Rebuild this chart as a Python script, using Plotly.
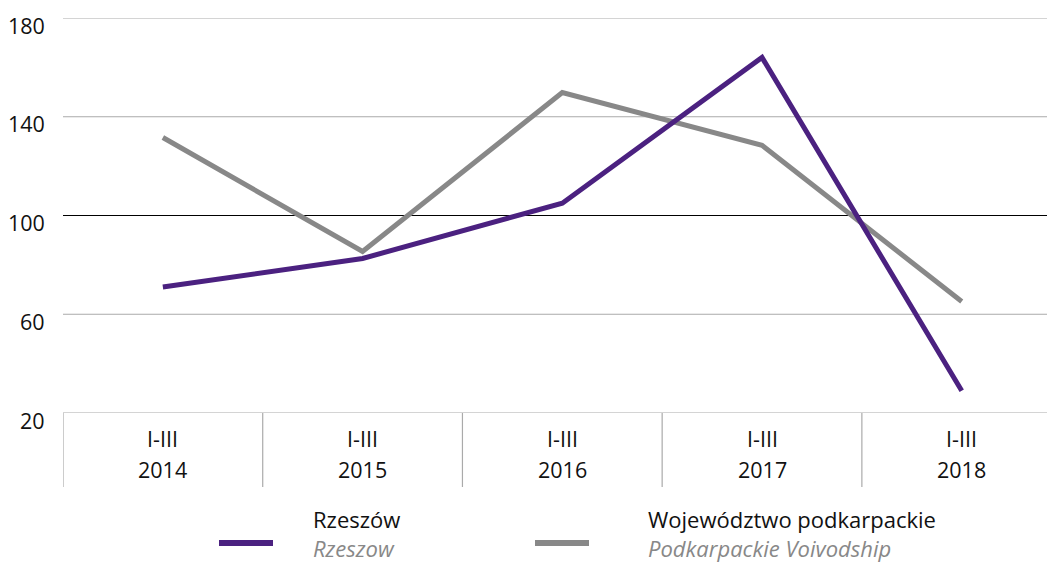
import plotly.graph_objects as go

periods = ["I-III", "I-III", "I-III", "I-III", "I-III"]
years = ["2014", "2015", "2016", "2017", "2018"]
rzeszow = [71, 82.6, 105, 164, 29]
podkarpackie = [131.6, 85.4, 149.8, 128.4, 65.2]
y_ticks = [20, 60, 100, 140, 180]

PURPLE = "#4b2180"
GRAY = "#888888"
FONT = "Open Sans"
FS = 21.5
FS_LEG = 22

# the page body has an 8px margin; compensate so the plot sits where the reference has it
W, H = 1047, 556
ML, MT, MB = 55, 10, 151
PH = H - MT - MB  # plot height in px
PW = W - ML

x_idx = list(range(len(years)))

def py(px_below):
    return -px_below / PH

def px(abs_x):
    return (abs_x - 63) / PW

fig = go.Figure()
fig.add_trace(go.Scatter(x=x_idx, y=podkarpackie, mode="lines",
                         line=dict(color=GRAY, width=5), name="Województwo podkarpackie"))
fig.add_trace(go.Scatter(x=x_idx, y=rzeszow, mode="lines",
                         line=dict(color=PURPLE, width=5), name="Rzeszów"))

shapes = []
for t in y_ticks:
    shapes.append(dict(type="line", xref="paper", yref="y", x0=0, x1=1, y0=t, y1=t,
                       line=dict(color="#000000" if t == 100 else "#aaaaaa", width=1.2),
                       layer="below"))
for i in range(len(years)):
    shapes.append(dict(type="line", xref="x", yref="paper", x0=i - 0.5, x1=i - 0.5,
                       y0=0, y1=py(74), line=dict(color="#aaaaaa", width=1.2)))
shapes.append(dict(type="line", xref="paper", yref="paper", x0=px(219), x1=px(273),
                   y0=py(130), y1=py(130), line=dict(color=PURPLE, width=6)))
shapes.append(dict(type="line", xref="paper", yref="paper", x0=px(535), x1=px(589),
                   y0=py(130), y1=py(130), line=dict(color=GRAY, width=6)))

annotations = []
for t in y_ticks:
    annotations.append(dict(xref="paper", yref="y", x=px(47), y=t, yshift=-7, text=str(t),
                            showarrow=False, xanchor="right", yanchor="middle",
                            font=dict(family=FONT, size=FS, color="#111111")))
for i in x_idx:
    annotations.append(dict(xref="x", yref="paper", x=i, y=py(26), text=periods[i],
                            showarrow=False, xanchor="center", yanchor="middle",
                            font=dict(family=FONT, size=FS, color="#111111")))
    annotations.append(dict(xref="x", yref="paper", x=i, y=py(57), text=years[i],
                            showarrow=False, xanchor="center", yanchor="middle",
                            font=dict(family=FONT, size=FS, color="#111111")))

legend_items = [
    (px(312), "Rzeszów", "Rzeszow"),
    (px(647), "Województwo podkarpackie", "Podkarpackie Voivodship"),
]
for x, name, eng in legend_items:
    text = name + "<br><span style='color:" + GRAY + "'><i>" + eng + "</i></span>"
    annotations.append(dict(xref="paper", yref="paper", x=x, y=py(120), text=text,
                            showarrow=False, xanchor="left", yanchor="middle", align="left",
                            borderpad=0,
                            font=dict(family=FONT, size=FS_LEG, color="#111111")))

fig.update_layout(
    width=W, height=H,
    margin=dict(l=ML, r=0, t=MT, b=MB, autoexpand=False),
    paper_bgcolor="white", plot_bgcolor="white",
    showlegend=False,
    font=dict(family=FONT, size=FS, color="#111111"),
    shapes=shapes, annotations=annotations,
    xaxis=dict(range=[-0.5, 4.467], showticklabels=False, showgrid=False,
               zeroline=False, showline=False, ticks="", fixedrange=True),
    yaxis=dict(range=[20, 180], showticklabels=False, showgrid=False,
               zeroline=False, showline=False, ticks="", fixedrange=True),
)

fig.write_html("out.html")
